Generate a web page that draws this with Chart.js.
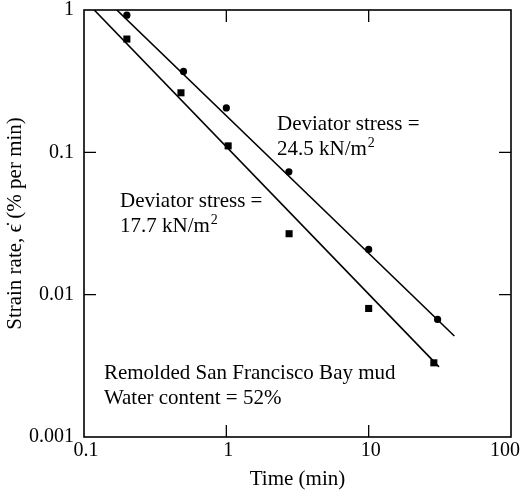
<!DOCTYPE html>
<html><head><meta charset="utf-8">
<script src="https://cdn.jsdelivr.net/npm/chart.js@4"></script>
<style>html,body{margin:0;padding:0;background:#fff}#wrap{width:521px;height:493px;position:relative}</style>
</head><body><div id="wrap"><canvas id="c"></canvas></div>
<script>
// ---- data ----
const xTicks = [0.1, 1, 10, 100];
const yTicks = [0.001, 0.01, 0.1, 1];
const timeHigh = [0.2, 0.5, 1, 2.75, 10, 30.5];          // deviator stress 24.5 kN/m2 (circles)
const rateHigh = [0.92, 0.37, 0.205, 0.073, 0.0208, 0.0067];
const timeLow  = [0.2, 0.48, 1.03, 2.76, 10, 28.7];        // deviator stress 17.7 kN/m2 (squares)
const rateLow  = [0.625, 0.262, 0.111, 0.0268, 0.0080, 0.00332];
const fitHighTime = [0.17, 40];
const fitHighRate = [1, 0.00512];
const fitLowTime  = [0.118, 31.2];
const fitLowRate  = [1, 0.00311];
const noteText = ["Deviator stress =", "24.5 kN/m", "Deviator stress =", "17.7 kN/m",
                  "Remolded San Francisco Bay mud", "Water content = 52%"];
const noteSup  = ["", "2", "", "2", "", ""];
const noteX    = [2.27, 2.27, 0.179, 0.179, 0.138, 0.138];
const noteY    = [0.1435, 0.0957, 0.0413, 0.0275, 0.00255, 0.0017];

const FONT = '"Liberation Serif", "Times New Roman", serif';
const pts = (xs, ys) => xs.map((x, i) => ({x, y: ys[i]}));

const framePlugin = {
  id: 'frame',
  afterDraw(chart) {
    const {ctx, chartArea: a, scales: {x, y}} = chart;
    ctx.save();
    ctx.strokeStyle = '#000';
    ctx.lineWidth = 1.6;
    ctx.strokeRect(a.left, a.top, a.right - a.left, a.bottom - a.top);
    const L = 12;
    ctx.lineWidth = 1.3;
    ctx.beginPath();
    xTicks.forEach(v => {
      const px = x.getPixelForValue(v);
      if (px > a.left + 1 && px < a.right - 1) {
        ctx.moveTo(px, a.bottom); ctx.lineTo(px, a.bottom - L);
        ctx.moveTo(px, a.top); ctx.lineTo(px, a.top + L);
      }
    });
    yTicks.forEach(v => {
      const py = y.getPixelForValue(v);
      if (py > a.top + 1 && py < a.bottom - 1) {
        ctx.moveTo(a.left, py); ctx.lineTo(a.left + L, py);
        ctx.moveTo(a.right, py); ctx.lineTo(a.right - L, py);
      }
    });
    ctx.stroke();
    ctx.fillStyle = '#000';
    // x tick labels (kept inside the canvas)
    ctx.font = '20px ' + FONT;
    ctx.textBaseline = 'top';
    ctx.textAlign = 'center';
    xTicks.forEach(v => {
      const s = String(v);
      const w = ctx.measureText(s).width;
      const px = Math.min(x.getPixelForValue(v) + 2, chart.width - w / 2 - 1);
      ctx.fillText(s, px, a.bottom + 4);
    });
    // annotations
    ctx.textBaseline = 'alphabetic';
    ctx.textAlign = 'left';
    noteText.forEach((t, i) => {
      const px = x.getPixelForValue(noteX[i]);
      const py = y.getPixelForValue(noteY[i]);
      ctx.font = '21px ' + FONT;
      ctx.fillText(t, px, py);
      if (noteSup[i]) {
        const w = ctx.measureText(t).width;
        ctx.font = '14px ' + FONT;
        ctx.fillText(noteSup[i], px + w + 1, py - 8);
      }
    });
    ctx.restore();
  }
};

new Chart(document.getElementById('c'), {
  type: 'scatter',
  data: {
    datasets: [
      {data: pts(fitHighTime, fitHighRate), showLine: true, borderColor: '#000', borderWidth: 1.6, pointRadius: 0, fill: false},
      {data: pts(fitLowTime, fitLowRate), showLine: true, borderColor: '#000', borderWidth: 1.6, pointRadius: 0, fill: false},
      {data: pts(timeHigh, rateHigh), pointStyle: 'circle', pointRadius: 3.6, backgroundColor: '#000', borderColor: '#000', borderWidth: 0},
      {data: pts(timeLow, rateLow), pointStyle: 'rect', pointRadius: 5, backgroundColor: '#000', borderColor: '#000', borderWidth: 0}
    ]
  },
  options: {
    responsive: true, maintainAspectRatio: false, animation: false, devicePixelRatio: 1,
    layout: {padding: {left: 0, top: 10, right: 10, bottom: 0}},
    plugins: {legend: {display: false}, tooltip: {enabled: false}},
    scales: {
      x: {
        type: 'logarithmic', min: 0.1, max: 100,
        afterBuildTicks: s => { s.ticks = xTicks.map(v => ({value: v})); },
        afterFit: s => { s.height = 56; s.paddingLeft = 0; s.paddingRight = 0; },
        grid: {display: false, drawTicks: false},
        border: {display: false},
        ticks: {display: false},
        title: {display: true, text: 'Time (min)', color: '#000', font: {family: FONT, size: 21}, padding: {top: 0, bottom: 1}}
      },
      y: {
        type: 'logarithmic', min: 0.001, max: 1,
        afterBuildTicks: s => { s.ticks = yTicks.map(v => ({value: v})); },
        afterFit: s => { s.width = 84; s.paddingTop = 0; s.paddingBottom = 0; },
        grid: {display: false, drawTicks: false},
        border: {display: false},
        ticks: {color: '#000', font: {family: FONT, size: 20}, padding: 10, autoSkip: false,
                callback: v => String(v)},
        title: {display: true, text: 'Strain rate, \u03F5\u0307 (% per min)', color: '#000', font: {family: FONT, size: 21}, padding: {top: 3, bottom: 0}}
      }
    }
  },
  plugins: [framePlugin]
});
</script></body></html>
